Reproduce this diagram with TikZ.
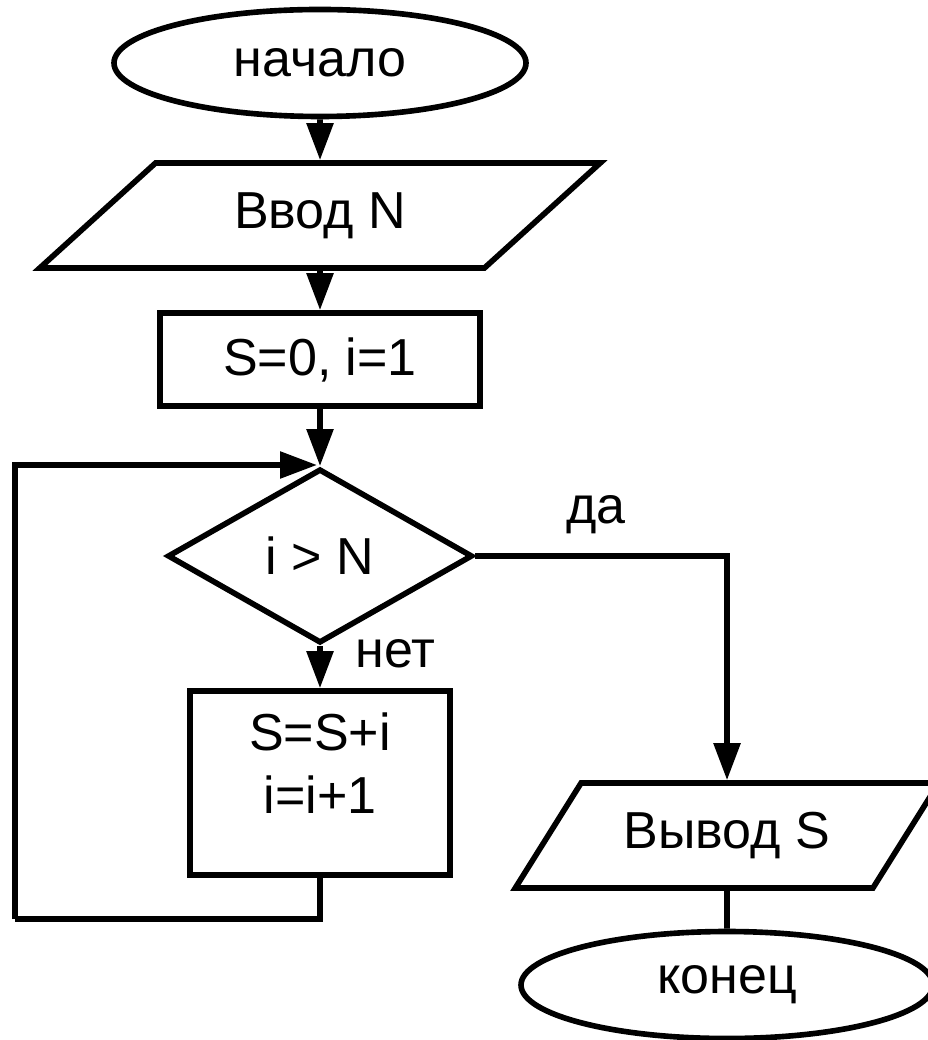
\documentclass[tikz,border=0pt]{standalone}
\usepackage{fontspec}
\setmainfont{Liberation Sans}
\usetikzlibrary{arrows.meta,shapes.geometric}
\tikzset{
	base/.style={draw, line width=1.6pt, inner sep=2pt},
	term/.style={base, ellipse, minimum width=4.12cm, minimum height=1.07cm},
	io/.style={base, trapezium, trapezium stretches=true, minimum height=1.05cm},
	proc/.style={base, rectangle},
	cond/.style={base, diamond, minimum width=3.05cm, minimum height=1.52cm},
	arr/.style={-{Triangle[length=3.7mm,width=2.6mm]}}
}

\begin{document}
\begin{tikzpicture}[line width=1.6pt, font=\fontsize{14.8pt}{17.9pt}\selectfont]
	\useasboundingbox (0,0) rectangle (9.27,-10.40);

	\node[term] (start) at (3.20,-0.63) {начало};
	\node[io, trapezium left angle=42.6, trapezium right angle=137.4,
		minimum width=5.65cm] (inN) at (3.20,-2.155) {Ввод N};
	\node[proc, minimum width=3.20cm, minimum height=0.93cm] (init) at (3.20,-3.595) {S=0, i=1};
	\node[cond] (test) at (3.20,-5.56) {i > N};
	\node[proc, minimum width=2.60cm, minimum height=1.84cm, align=center,
		text depth=0.40cm] (body) at (3.20,-7.83) {S=S+i\\i=i+1};
	\node[io, trapezium left angle=50.7, trapezium right angle=129.3,
		minimum width=4.27cm] (outS) at (7.27,-8.355) {Вывод S};
	\node[term] (stop) at (7.27,-9.85) {конец};

	\coordinate (join) at (3.17,-4.65);
	\coordinate (back) at (0.15,-9.19);

	\draw[arr] (start) -- (inN);
	\draw[arr] (inN) -- (init);
	\draw[arr] (init) -- (test);
	\draw[arr] (test) -- node[pos=0.5, anchor=base west, xshift=0.21cm] {нет} (body);
	\draw (body.south) |- (back);
	\draw[arr] (back) |- (join);
	\draw[arr] (test.east) -| node[pos=0.24, anchor=base, yshift=0.33cm] {да} (outS.north);
	\draw (outS) -- (stop);
\end{tikzpicture}
\end{document}
